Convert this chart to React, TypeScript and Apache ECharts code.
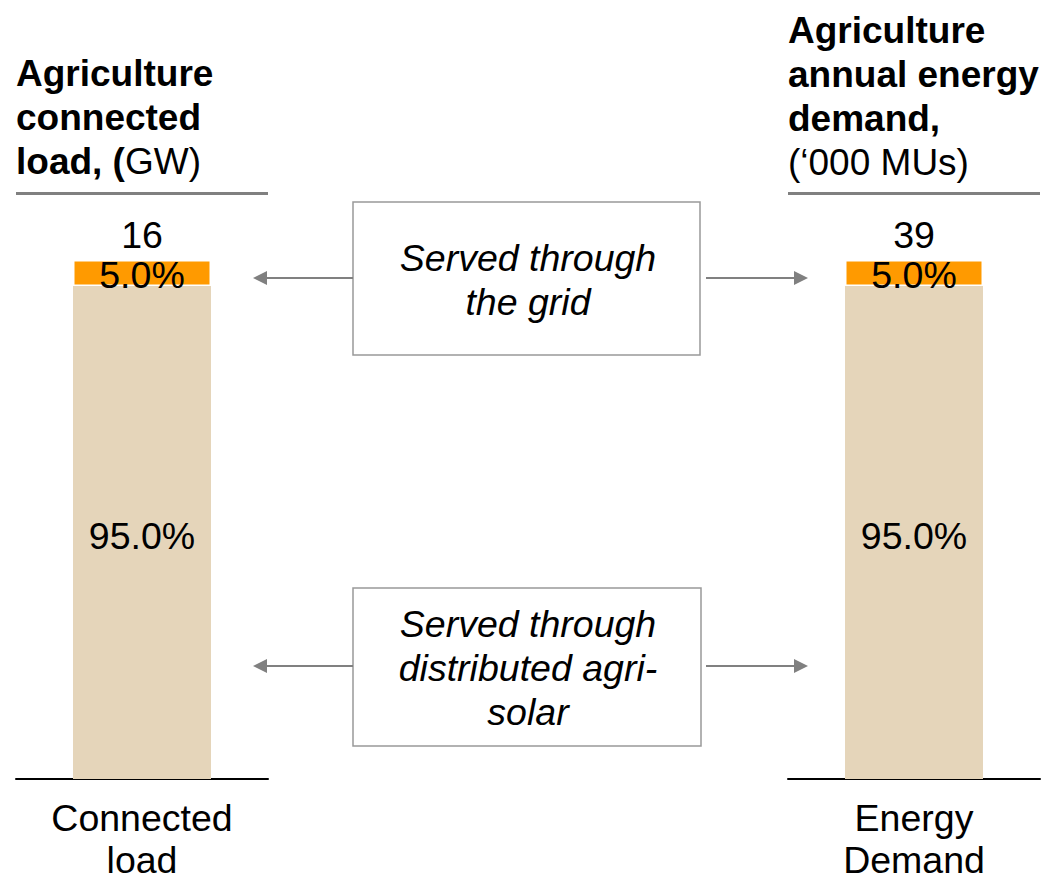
import React, { useEffect, useRef } from "react";
import * as echarts from "echarts";

// ---- data ----
const panels = ["Connected load", "Energy Demand"];
const totals = [16, 39];
const solarShare = [95.0, 95.0];
const gridShare = [5.0, 5.0];
const seriesNames = ["Served through distributed agri-solar", "Served through the grid"];
const boxTexts = ["Served through\nthe grid", "Served through\ndistributed agri-\nsolar"];

const FONT = "'Liberation Sans', Arial, Helvetica, sans-serif";
const ORANGE = "#FF9A00";
const BEIGE = "#E5D5BA";
const GRAY = "#808080";
const FS = 37.5;

export default function App() {
  const ref = useRef<HTMLDivElement>(null);
  useEffect(() => {
    if (!ref.current) return;
    const chart = echarts.init(ref.current, undefined, { renderer: "svg" });

    const grids = [
      { left: 16, top: 260, width: 252, height: 521 },
      { left: 788, top: 260, width: 252, height: 521 },
    ];

    const xAxes = panels.map((p, i) => ({
      type: "category",
      gridIndex: i,
      data: [p],
      axisLine: { show: true, lineStyle: { color: "#000", width: 2 } },
      axisTick: { show: false },
      axisLabel: {
        color: "#000",
        fontSize: FS,
        fontFamily: FONT,
        lineHeight: 42,
        margin: 18,
        formatter: (v: string) => v.replace(" ", "\n"),
      },
    }));
    const yAxes = panels.map((_, i) => ({
      type: "value",
      gridIndex: i,
      min: 0,
      max: 100,
      show: false,
      splitLine: { show: false },
    }));

    const series: any[] = [];
    panels.forEach((_, i) => {
      series.push({
        type: "bar",
        name: seriesNames[0],
        xAxisIndex: i,
        yAxisIndex: i,
        stack: "s" + i,
        barWidth: 138,
        data: [solarShare[i]],
        itemStyle: { color: BEIGE },
        label: {
          show: true,
          position: "inside",
          color: "#000",
          fontSize: FS,
          fontFamily: FONT,
          offset: [0, 4],
          formatter: (p: any) => `${Number(p.value).toFixed(1)}%`,
        },
      });
      series.push({
        type: "bar",
        name: seriesNames[1],
        xAxisIndex: i,
        yAxisIndex: i,
        stack: "s" + i,
        barWidth: 138,
        data: [gridShare[i]],
        itemStyle: { color: ORANGE, borderColor: "#fff", borderWidth: 1.5 },
        label: {
          show: true,
          position: "inside",
          color: "#000",
          fontSize: FS,
          fontFamily: FONT,
          offset: [0, 2],
          formatter: (p: any) => `${Number(p.value).toFixed(1)}%`,
        },
      });
      series.push({
        type: "bar",
        name: "Total",
        xAxisIndex: i,
        yAxisIndex: i,
        stack: "s" + i,
        barWidth: 138,
        data: [0],
        itemStyle: { color: ORANGE },
        label: {
          show: true,
          position: "top",
          distance: 6,
          color: "#000",
          fontSize: FS,
          fontFamily: FONT,
          formatter: () => String(totals[i]),
        },
      });
    });

    const boldRich = {
      b: { fontWeight: "bold", fontSize: 37, lineHeight: 44, fontFamily: FONT, fill: "#000" },
      n: { fontWeight: "normal", fontSize: 37, lineHeight: 44, fontFamily: FONT, fill: "#000" },
    };

    const arrow = (y: number) => [
      { type: "line", shape: { x1: 353, y1: y, x2: 264, y2: y }, style: { stroke: GRAY, lineWidth: 2 } },
      { type: "polygon", shape: { points: [[253, y], [267, y - 7], [267, y + 7]] }, style: { fill: GRAY } },
      { type: "line", shape: { x1: 706, y1: y, x2: 797, y2: y }, style: { stroke: GRAY, lineWidth: 2 } },
      { type: "polygon", shape: { points: [[808, y], [794, y - 7], [794, y + 7]] }, style: { fill: GRAY } },
    ];

    const graphic: any[] = [
      {
        type: "text",
        x: 16,
        y: 51,
        style: {
          text: "{b|Agriculture}\n{b|connected}\n{b|load, (}{n|GW)}",
          rich: boldRich,
          verticalAlign: "top",
        },
      },
      {
        type: "text",
        x: 788,
        y: 8,
        style: {
          text: "{b|Agriculture}\n{b|annual energy}\n{b|demand,}\n{n|(\u2018000 MUs)}",
          rich: boldRich,
          verticalAlign: "top",
        },
      },
      { type: "line", shape: { x1: 16, y1: 193.5, x2: 268, y2: 193.5 }, style: { stroke: GRAY, lineWidth: 3 } },
      { type: "line", shape: { x1: 788, y1: 193.5, x2: 1040, y2: 193.5 }, style: { stroke: GRAY, lineWidth: 3 } },
      {
        type: "rect",
        shape: { x: 353, y: 202, width: 347, height: 153 },
        style: { fill: "#fff", stroke: "#999", lineWidth: 1.5 },
      },
      {
        type: "text",
        x: 528,
        y: 280,
        style: {
          text: boxTexts[0],
          font: `italic ${FS}px ${FONT}`,
          lineHeight: 44,
          align: "center",
          verticalAlign: "middle",
          fill: "#000",
        },
      },
      {
        type: "rect",
        shape: { x: 353, y: 588, width: 348, height: 158 },
        style: { fill: "#fff", stroke: "#999", lineWidth: 1.5 },
      },
      {
        type: "text",
        x: 528,
        y: 668,
        style: {
          text: boxTexts[1],
          font: `italic ${FS}px ${FONT}`,
          lineHeight: 44,
          align: "center",
          verticalAlign: "middle",
          fill: "#000",
        },
      },
      ...arrow(278),
      ...arrow(666),
    ];

    chart.setOption({
      animation: false,
      backgroundColor: "#fff",
      grid: grids,
      xAxis: xAxes,
      yAxis: yAxes,
      series,
      graphic,
    });
    return () => chart.dispose();
  }, []);

  return (
    <div
      ref={ref}
      style={{ position: "fixed", left: 0, top: 0, width: 1043, height: 881, background: "#fff" }}
    />
  );
}
